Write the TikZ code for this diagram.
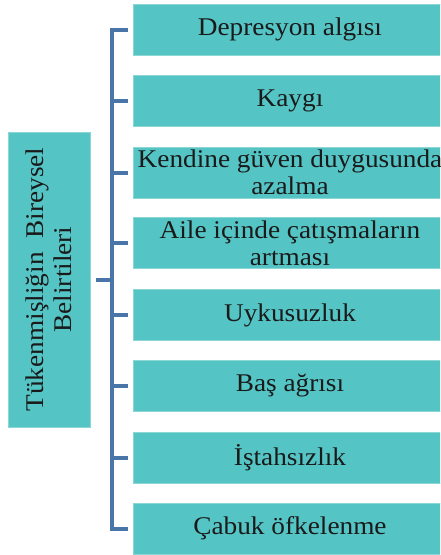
\documentclass[tikz,border=0pt]{standalone}
\usepackage{fontspec}
\setmainfont{Liberation Serif}[FakeStretch=1.07]
\definecolor{boxfill}{HTML}{55C4C5}
\definecolor{boxline}{HTML}{8CD6D6}
\definecolor{linkc}{HTML}{4A75A8}
\definecolor{txt}{HTML}{1A1A1A}
\begin{document}
\begin{tikzpicture}[x=1pt,y=-1pt,
  item/.style={draw=boxline, line width=1pt, fill=boxfill, minimum width=314pt, minimum height=51pt, inner sep=0pt, text=txt, font=\fontsize{25.5}{27}\selectfont, align=center},
  head/.style={draw=boxline, line width=1pt, fill=boxfill, minimum width=295pt, minimum height=82pt, inner sep=0pt, text=txt, font=\fontsize{25.5}{28}\selectfont, align=center, rotate=90},
  link/.style={draw=linkc, line width=4pt, line join=miter}]
\useasboundingbox (0,0) rectangle (440,555);
\clip (0,0) rectangle (440,555);
\coordinate (stem) at (112,0);
\node[head] (L) at (49,279.5) {Tükenmişliğin\ \ Bireysel\\Belirtileri};
\node[item] (b1) at (290,29.5) {Depresyon algısı};
\node[item] (b2) at (290,100.5) {Kaygı};
\node[item] (b3) at (290,172.5) {Kendine güven duygusunda\\azalma};
\node[item] (b4) at (290,243) {Aile içinde çatışmaların\\artması};
\node[item] (b5) at (290,315) {Uykusuzluk};
\node[item] (b6) at (290,386) {Baş ağrısı};
\node[item] (b7) at (290,458) {İştahsızlık};
\node[item] (b8) at (290,528.5) {Çabuk öfkelenme};
\draw[link, shorten <=5pt, shorten >=5pt] (b1.west) -- (b1.west -| stem) -- (b8.west -| stem) -- (b8.west);
\foreach \b in {b2,b3,b4,b5,b6,b7}
  \draw[link, shorten <=5pt] (\b.west) -- (\b.west -| stem);
\draw[link, shorten <=5pt] (L.south) -- (L.south -| stem);
\end{tikzpicture}
\end{document}
